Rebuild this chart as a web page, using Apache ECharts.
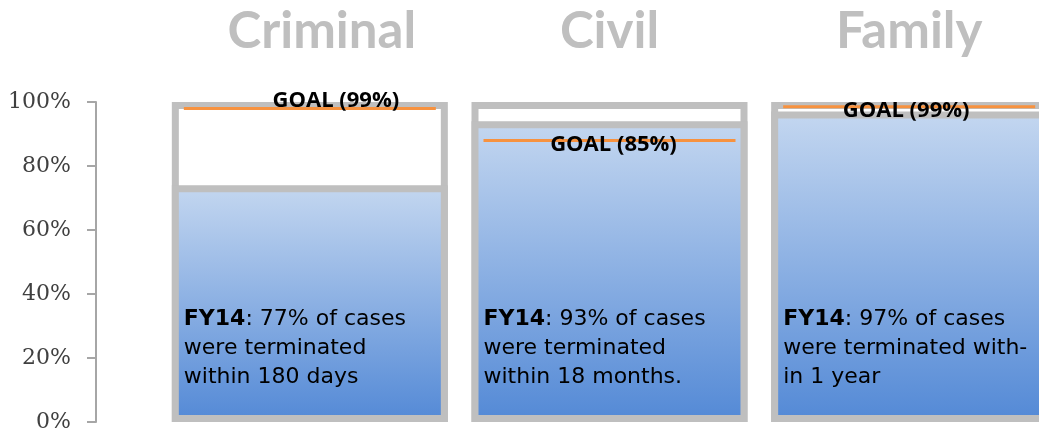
<!DOCTYPE html>
<html>
<head>
<meta charset="utf-8">
<script src="https://cdn.jsdelivr.net/npm/echarts@6/dist/echarts.min.js"></script>
<style>
  html, body { margin: 0; padding: 0; background: #ffffff; }
  #chart { width: 1039px; height: 434px; }
</style>
</head>
<body>
<div id="chart"></div>
<script>
// ---- data ----
const categories = ['Criminal', 'Civil', 'Family'];
const fy14Values = [74, 94, 97];          // filled bar heights as drawn (%)
const goalValues = [98, 88, 98.5];        // orange goal lines as drawn (%)
const goalLabels = ['GOAL (99%)', 'GOAL (85%)', 'GOAL (99%)'];
const noteLead = 'FY14';
const noteLines = [
  ['77% of cases', 'were terminated', 'within 180 days'],
  ['93% of cases', 'were terminated', 'within 18 months.'],
  ['97% of cases', 'were terminated with-', 'in 1 year']
];
const yTicks = [0, 20, 40, 60, 80, 100];

// ---- layout / style constants ----
const BAR_W = 276;
const GOAL_HALF = 126;
const GOAL_LABEL_OFFSET = [[26, -8], [4, 4], [-3, 4]];
const TITLE_SHIFT = [24, 0, 0];
const GRAY = '#bfbfbf';

const chart = echarts.init(document.getElementById('chart'));

const fillGradient = new echarts.graphic.LinearGradient(0, 0, 0, 1, [
  { offset: 0, color: '#c4d7f0' },
  { offset: 1, color: '#5389d6' }
]);

chart.setOption({
  animation: false,
  backgroundColor: '#ffffff',
  grid: {
    left: 160, width: 899, top: 102, bottom: 12,
    containLabel: false,
    outerBoundsMode: 'none'
  },
  xAxis: {
    type: 'category',
    position: 'top',
    data: categories,
    axisLine: { show: false },
    axisTick: { show: false },
    splitLine: { show: false },
    axisLabel: {
      interval: 0,
      hideOverlap: false,
      margin: 70,
      verticalAlign: 'middle',
      fontFamily: 'Lato',
      fontWeight: 'bold',
      fontSize: 51,
      color: GRAY,
      formatter: function (value, idx) {
        return TITLE_SHIFT[idx] ? '{s|' + value + '}' : value;
      },
      rich: {
        s: {
          fontFamily: 'Lato', fontWeight: 'bold', fontSize: 51, color: GRAY,
          padding: [0, 0, 0, TITLE_SHIFT[0]]
        }
      }
    }
  },
  yAxis: {
    type: 'value',
    min: yTicks[0],
    max: yTicks[yTicks.length - 1],
    interval: yTicks[1] - yTicks[0],
    offset: 64,
    axisLine: { show: true, lineStyle: { color: '#a6a6a6', width: 2 } },
    axisTick: { show: true, length: 9, lineStyle: { color: '#a6a6a6', width: 2 } },
    splitLine: { show: false },
    axisLabel: {
      margin: 25,
      formatter: '{value}%',
      fontFamily: 'DejaVu Serif',
      fontSize: 22,
      color: '#404040'
    }
  },
  series: [
    {
      name: 'box',
      type: 'bar',
      barWidth: BAR_W,
      barGap: '-100%',
      silent: true,
      clip: false,
      z: 2,
      data: categories.map(() => 100),
      itemStyle: { color: '#ffffff', borderColor: GRAY, borderWidth: 7 }
    },
    {
      name: 'FY14',
      type: 'bar',
      barWidth: BAR_W,
      barGap: '-100%',
      clip: false,
      z: 3,
      data: fy14Values,
      itemStyle: { color: fillGradient, borderColor: GRAY, borderWidth: 7 },
      label: {
        show: true,
        position: 'insideBottomLeft',
        distance: 30.5,
        offset: [-18.5, 0],
        align: 'left',
        formatter: function (p) {
          const lines = noteLines[p.dataIndex];
          return '{b|' + noteLead + '}{t|: ' + lines[0] + '}\n{t|' + lines.slice(1).join('}\n{t|') + '}';
        },
        rich: {
          b: { fontFamily: 'DejaVu Sans', fontWeight: 'bold', fontSize: 22, lineHeight: 29, color: '#000000' },
          t: { fontFamily: 'DejaVu Sans', fontSize: 22, lineHeight: 29, color: '#000000' }
        }
      }
    },
    {
      name: 'Goal',
      type: 'custom',
      z: 10,
      clip: false,
      data: goalValues.map((g, i) => [i, g]),
      encode: { x: 0, y: 1 },
      renderItem: function (params, api) {
        const idx = api.value(0);
        const pt = api.coord([idx, api.value(1)]);
        const off = GOAL_LABEL_OFFSET[params.dataIndex];
        return {
          type: 'group',
          children: [
            {
              type: 'line',
              shape: { x1: pt[0] - GOAL_HALF, y1: pt[1], x2: pt[0] + GOAL_HALF, y2: pt[1] },
              style: { stroke: '#f7923f', lineWidth: 3 }
            },
            {
              type: 'text',
              x: pt[0] + off[0],
              y: pt[1] + off[1],
              style: {
                text: goalLabels[params.dataIndex],
                fontFamily: 'Open Sans',
                fontWeight: 'bold',
                fontSize: 22,
                fill: '#000000',
                align: 'center',
                verticalAlign: 'middle'
              }
            }
          ]
        };
      }
    }
  ]
});
</script>
</body>
</html>
